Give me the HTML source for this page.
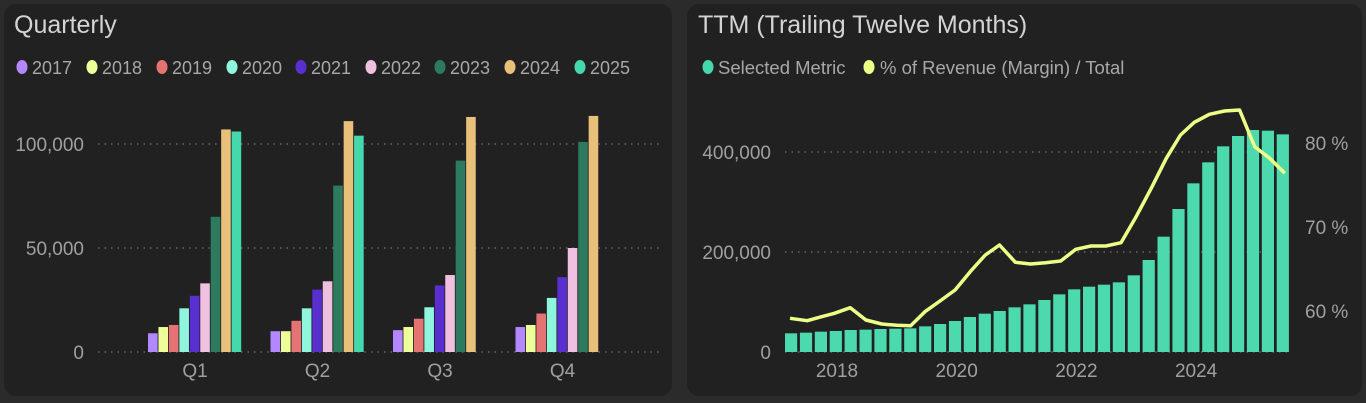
<!DOCTYPE html>
<html><head><meta charset="utf-8"><style>
body{margin:0;width:1366px;height:403px;background:#2b2b2b;font-family:"Liberation Sans",sans-serif;overflow:hidden}
.p{position:absolute;top:4px;height:392px;background:#212121;border-radius:12px}
svg{position:absolute;left:0;top:0}
</style></head><body>
<div class="p" style="left:4px;width:668px"></div>
<div class="p" style="left:687px;width:675px"></div>
<svg id="s" width="1366" height="403" font-family="Liberation Sans, sans-serif"></svg>
<script>
let h='';
const T=(x,y,s,txt,fill,anchor)=>h+=`<text x="${x}" y="${y}" font-size="${s}" fill="${fill}" text-anchor="${anchor||'start'}">${txt}</text>`;
T(14,33,25,'Quarterly','#d4d4d4');
T(698,33,25,'TTM (Trailing Twelve Months)','#d4d4d4');
const cols=['#b388ff','#eeff99','#e57373','#8ff5dc','#5a2fcf','#f0c0e0','#2e7a5e','#e8c07a','#45d8ad'];
const yrs=[2017,2018,2019,2020,2021,2022,2023,2024,2025];
const lx=[22,92,162,232,301,371,440,510,580];
yrs.forEach((y,i)=>{h+=`<ellipse cx="${lx[i]}" cy="67" rx="5.5" ry="7" fill="${cols[i]}"/>`;T(lx[i]+10,74,18,y,'#a8a8a8');});
[[352,'0'],[248,'50,000'],[144,'100,000']].forEach(([y,l])=>{h+=`<line x1="98" x2="662" y1="${y}" y2="${y}" stroke="#888" stroke-dasharray="1.5 5"/>`;T(84,y+7,19,l,'#a0a0a0','end');});
const d=[[9,12,13,21,27,33,65,107,106],[10,10,15,21,30,34,80,111,104],[10.5,12,16,21.5,32,37,92,113],[12,13,18.5,26,36,50,101,113.5]];
d.forEach((g,q)=>{const x0=148+q*122.5;g.forEach((v,i)=>{const ht=v*2.08;h+=`<rect x="${x0+i*10.45}" y="${352-ht}" width="9.6" height="${ht}" fill="${cols[i]}"/>`;});T(x0+47,377,19,'Q'+(q+1),'#a0a0a0','middle');});
h+=`<ellipse cx="708" cy="67" rx="5.5" ry="7" fill="#45d8ad"/>`;T(718,74,18.5,'Selected Metric','#a8a8a8');
h+=`<ellipse cx="869" cy="67" rx="5.5" ry="7" fill="#eeff88"/>`;T(880,74,18.5,'% of Revenue (Margin) / Total','#a8a8a8');
[[352,'0'],[252,'200,000'],[152,'400,000']].forEach(([y,l])=>{h+=`<line x1="785" x2="1290" y1="${y}" y2="${y}" stroke="#888" stroke-dasharray="1.5 5"/>`;T(771,y+7,19,l,'#a0a0a0','end');});
[[143,'80 %'],[227,'70 %'],[311,'60 %']].forEach(([y,l])=>T(1305,y+7,19,l,'#a0a0a0'));
const bz=[700,698,695,693,690,689,687,686,685,679,672,663,651,641,633,622,613,600,583,568,560,554,547,526,480,410,327,250,187,139,108,90,92,103];
bz.forEach((z,i)=>{const top=100+z/3;h+=`<rect x="${785+i*14.9}" y="${top}" width="12.2" height="${352-top}" fill="#4cd9ad"/>`;});
[2018,2020,2022,2024].forEach((y,i)=>T(837+i*119.7,377,19,y,'#a0a0a0','middle'));
const lp=[[232,655],[272,662],[300,652],[335,640],[372,623],[408,660],[445,672],[480,676],[512,677],[545,635],[580,603],[615,570],[650,515],[685,465],[718,435],[755,487],[790,492],[825,488],[860,483],[895,448],[930,438],[965,438],[1000,428],[1035,350],[1070,265],[1105,175],[1138,105],[1170,67],[1205,43],[1240,33],[1275,30],[1310,140],[1345,175],[1380,220]];
h+=`<polyline fill="none" stroke="#eeff88" stroke-width="3.5" stroke-linejoin="round" points="${lp.map(([x,y])=>(690+x/2.32).toFixed(1)+','+(100+y/3).toFixed(1)).join(' ')}"/>`;
document.getElementById('s').innerHTML=h;
</script>
</body></html>
